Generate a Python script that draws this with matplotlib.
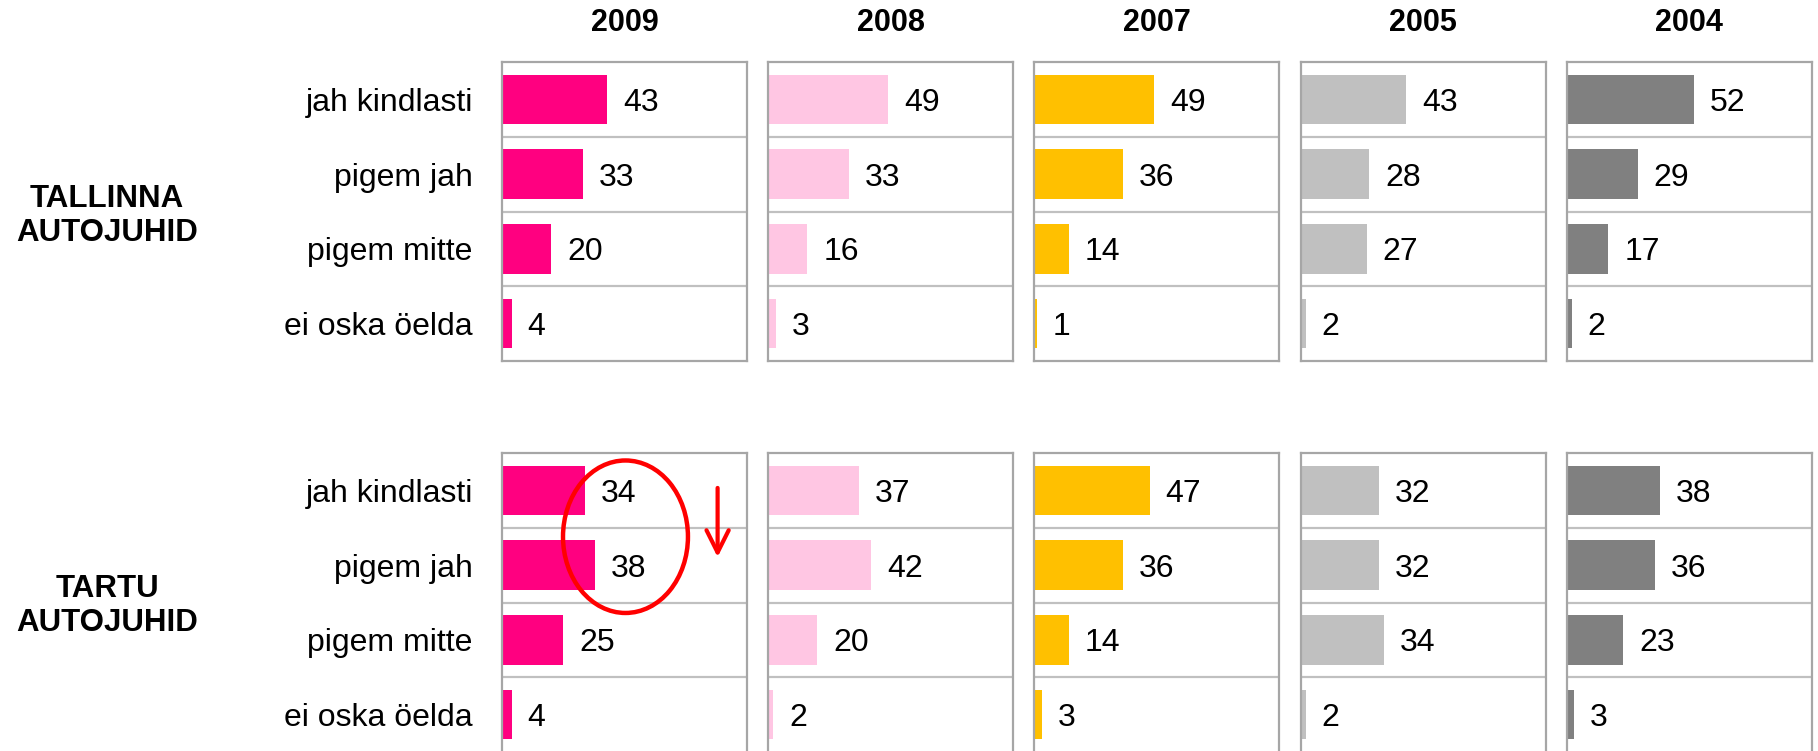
import matplotlib.pyplot as plt
from matplotlib.patches import Ellipse

plt.rcParams['font.family'] = ['Liberation Sans', 'DejaVu Sans']

years = ['2009', '2008', '2007', '2005', '2004']
colors = ['#FF0080', '#FFC6E3', '#FFC000', '#C0C0C0', '#808080']
categories = ['jah kindlasti', 'pigem jah', 'pigem mitte', 'ei oska öelda']
groups = ['TALLINNA\nAUTOJUHID', 'TARTU\nAUTOJUHID']

tallinn = [
    [43, 33, 20, 4],
    [49, 33, 16, 3],
    [49, 36, 14, 1],
    [43, 28, 27, 2],
    [52, 29, 17, 2],
]
tartu = [
    [34, 38, 25, 4],
    [37, 42, 20, 2],
    [47, 36, 14, 3],
    [32, 32, 34, 2],
    [38, 36, 23, 3],
]
data = [tallinn, tartu]

W, H = 1818, 751
fig = plt.figure(figsize=(W / 100, H / 100), dpi=100)

panel_left = 502
panel_step = 266.2
panel_w = 245
panel_h = 299
panel_tops = [62, 453]
group_y = [216, 606]

axes = {}
for g in range(2):
    for i in range(5):
        left = panel_left + i * panel_step
        top = panel_tops[g]
        ax = fig.add_axes([left / W, 1 - (top + panel_h) / H, panel_w / W, panel_h / H])
        axes[(g, i)] = ax
        vals = data[g][i]
        ypos = list(range(len(categories)))
        ax.barh(ypos, vals, height=0.66, color=colors[i], zorder=2)
        for y, v in zip(ypos, vals):
            ax.text(v + 6.5, y, str(v), ha='left', va='center_baseline', fontsize=23, color='black')
        for s in [0.5, 1.5, 2.5]:
            ax.axhline(s, color='#C0C0C0', lw=1.6, zorder=1)
        ax.set_xlim(0, 100)
        ax.set_ylim(3.5, -0.5)
        ax.set_xticks([])
        for sp in ax.spines.values():
            sp.set_color('#A6A6A6')
            sp.set_linewidth(1.6)
        if i == 0:
            ax.set_yticks(ypos)
            ax.set_yticklabels(categories, fontsize=23, va='center_baseline')
            ax.tick_params(axis='y', length=0, pad=21)
        else:
            ax.set_yticks([])
        if g == 0:
            ax.set_title(years[i], fontsize=22, fontweight='bold', pad=22)
    fig.text(107 / W, 1 - group_y[g] / H, groups[g], ha='center', va='center',
             fontsize=22.5, fontweight='bold', linespacing=1.2)

# highlight on Tartu 2009
ax = axes[(1, 0)]
ax.add_patch(Ellipse((50.4, 0.62), 51, 2.04, fill=False, edgecolor='#FF0000', lw=3.2, zorder=5))
ax.annotate('', xy=(88, 0.93), xytext=(88, -0.07),
            arrowprops=dict(arrowstyle='->', color='#FF0000', lw=3, mutation_scale=40))

fig.savefig('out.png', dpi=100)
